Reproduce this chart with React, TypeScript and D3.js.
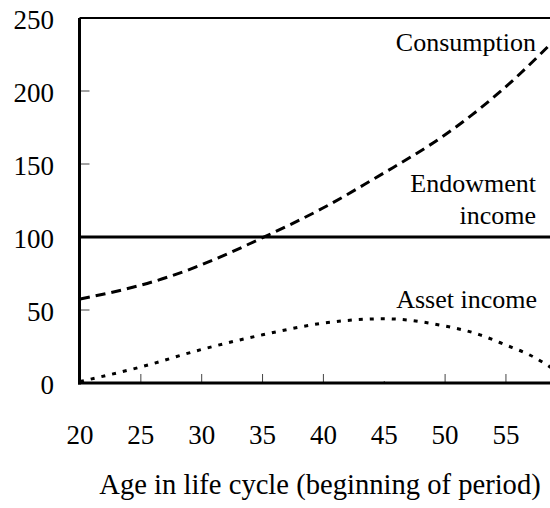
import React from "react";
import * as d3 from "d3";

const ages = [20, 25, 30, 35, 40, 45, 50, 55, 59];
const consumption = [57.5, 67, 81, 99.5, 120, 144, 170, 203, 235];
const assetAges = [20, 25, 30, 35, 40, 45, 50, 52.5, 55, 57, 59];
const assetIncome = [1, 11, 23, 33, 41, 44, 39, 34, 26, 19, 9];
const endowmentAges = [20, 60];
const endowment = [100, 100];
const xTicks = [20, 25, 30, 35, 40, 45, 50, 55];
const yTicks = [0, 50, 100, 150, 200, 250];

const W = 550;
const H = 508;
const FONT = "'Liberation Serif', 'Times New Roman', Times, 'DejaVu Serif', serif";

export default function App() {
  const x = d3.scaleLinear().domain([20, 60]).range([80, 566.8]);
  const y = d3.scaleLinear().domain([0, 250]).range([383, 18]);
  const left = 79.5;
  const right = W;
  const consLine = d3
    .line<[number, number]>()
    .x((d) => x(d[0]))
    .y((d) => y(d[1]))
    .curve(d3.curveNatural);
  const assetLine = d3
    .line<[number, number]>()
    .x((d) => x(d[0]))
    .y((d) => y(d[1]))
    .curve(d3.curveMonotoneX);
  const consPts = ages.map((a, i) => [a, consumption[i]] as [number, number]);
  const assetPts = assetAges.map((a, i) => [a, assetIncome[i]] as [number, number]);
  const endPts = endowmentAges.map((a, i) => [a, endowment[i]] as [number, number]);
  const ts = { fontFamily: FONT };

  return (
    <svg
      width={W}
      height={H}
      style={{ position: "absolute", left: 0, top: 0, background: "#fff" }}
    >
      <defs>
        <clipPath id="plot">
          <rect x={left} y={y(250) - 2} width={right - left} height={y(0) - y(250) + 4} />
        </clipPath>
      </defs>
      <rect x={0} y={0} width={W} height={H} fill="#fff" />
      {yTicks.map((t) => (
        <g key={"y" + t}>
          {t !== 0 && t !== 250 && (
            <line x1={left} x2={left + 10} y1={y(t)} y2={y(t)} stroke="#444" strokeWidth={1} />
          )}
          <text x={54} y={y(t) + 11} fontSize={27} textAnchor="end" fill="#000" style={ts}>
            {t}
          </text>
        </g>
      ))}
      {xTicks.map((t) => (
        <g key={"x" + t}>
          {t !== 20 && (
            <line
              x1={x(t)}
              x2={x(t)}
              y1={y(0)}
              y2={y(0) - (t === 45 ? 2 : 9)}
              stroke="#444"
              strokeWidth={1}
            />
          )}
          <text x={x(t)} y={444} fontSize={27} textAnchor="middle" fill="#000" style={ts}>
            {t}
          </text>
        </g>
      ))}
      <line x1={left} x2={right} y1={y(250)} y2={y(250)} stroke="#000" strokeWidth={2} />
      <line x1={left} x2={left} y1={y(250)} y2={y(0) + 1.5} stroke="#000" strokeWidth={3} />
      <line x1={left - 1.5} x2={right} y1={y(0)} y2={y(0)} stroke="#000" strokeWidth={3} />
      <g clipPath="url(#plot)">
        <path d={consLine(endPts) || ""} fill="none" stroke="#000" strokeWidth={3} />
        <path
          d={consLine(consPts) || ""}
          fill="none"
          stroke="#000"
          strokeWidth={3}
          strokeDasharray="10,6"
        />
        <path
          d={assetLine(assetPts) || ""}
          fill="none"
          stroke="#000"
          strokeWidth={3}
          strokeDasharray="4,7"
        />
      </g>
      <text x={536} y={51} fontSize={26} textAnchor="end" style={ts}>Consumption</text>
      <text x={536} y={192} fontSize={26} textAnchor="end" style={ts}>Endowment</text>
      <text x={536} y={224} fontSize={26} textAnchor="end" style={ts}>income</text>
      <text x={537} y={308} fontSize={26} textAnchor="end" style={ts}>Asset income</text>
      <text x={320} y={494} fontSize={28.6} textAnchor="middle" style={ts}>
        Age in life cycle (beginning of period)
      </text>
    </svg>
  );
}
